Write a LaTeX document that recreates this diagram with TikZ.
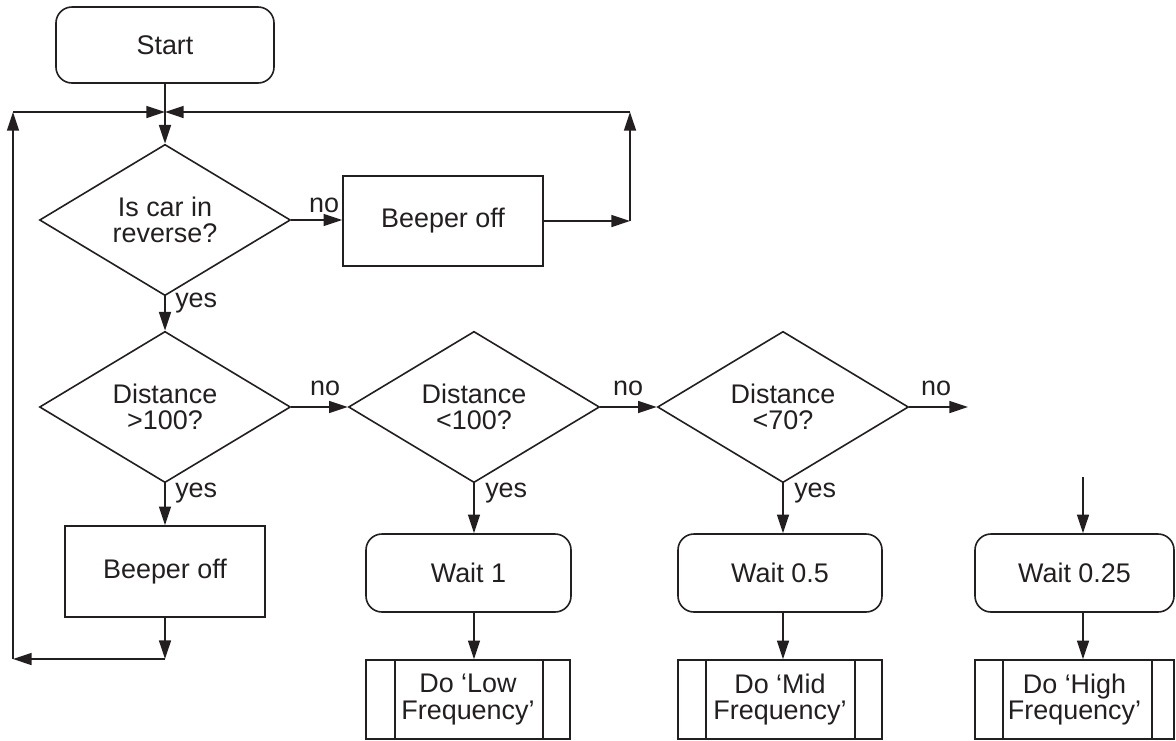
\documentclass[tikz,border=0pt]{standalone}
\usepackage{fontspec}
\setmainfont{Liberation Sans}
\usetikzlibrary{arrows.meta,shapes.geometric,calc}
\definecolor{ink}{HTML}{231F20}
\begin{document}
\begin{tikzpicture}[x=0.75pt,y=-0.75pt,
  every node/.style={text=ink, font=\fontsize{20.2}{20}\selectfont, align=center, inner sep=0pt},
  base/.style={draw=ink, line width=1.2pt},
  procbox/.style={base, rectangle},
  termbox/.style={base, rectangle, rounded corners=12pt},
  decbox/.style={base, diamond, minimum width=188.25pt, minimum height=104.25pt},
  subbox/.style={base, rectangle, minimum height=59.25pt},
  lbl/.style={anchor=base},
  conn/.style={draw=ink, line width=1.2pt},
  arr/.style={conn, -{Triangle[length=14pt,width=9pt]}}]
\useasboundingbox (0,0) rectangle (1176,740);

% nodes
\node[termbox, minimum width=163.5pt, minimum height=57pt] (start) at (165,45) {Start};
\node[decbox] (d1) at (165,220) {Is car in\\reverse?};
\node[procbox, minimum width=150pt, minimum height=67.5pt] (b1) at (443,221) {Beeper off};
\node[decbox] (d2) at (165,407) {Distance\\>100?};
\node[decbox] (d3) at (474,407) {Distance\\<100?};
\node[decbox] (d4) at (783,407) {Distance\\<70?};
\node[procbox, minimum width=150pt, minimum height=68.25pt] (b2) at (165,571.5) {Beeper off};
\node[termbox, minimum width=153.75pt, minimum height=58.5pt] (w1) at (468.5,573) {Wait 1};
\node[termbox, minimum width=153pt, minimum height=58.5pt] (w2) at (780,573) {Wait 0.5};
\node[termbox, minimum width=149.25pt, minimum height=58.5pt] (w3) at (1074.5,573) {Wait 0.25};
\node[subbox, minimum width=153pt] (s1) at (468,699.5) {Do ‘Low\\Frequency’};
\node[subbox, minimum width=153pt] (s2) at (780,699.5) {Do ‘Mid\\Frequency’};
\node[subbox, minimum width=149.25pt] (s3) at (1074.5,699.5) {Do ‘High\\Frequency’};

% inner bars of subroutine boxes
\draw[conn] ([xshift=22.5pt]s1.north west) -- ([xshift=22.5pt]s1.south west);
\draw[conn] ([xshift=-21pt]s1.north east) -- ([xshift=-21pt]s1.south east);
\draw[conn] ([xshift=21.75pt]s2.north west) -- ([xshift=21.75pt]s2.south west);
\draw[conn] ([xshift=-21pt]s2.north east) -- ([xshift=-21pt]s2.south east);
\draw[conn] ([xshift=21.75pt]s3.north west) -- ([xshift=21.75pt]s3.south west);
\draw[conn] ([xshift=-17.25pt]s3.north east) -- ([xshift=-17.25pt]s3.south east);

% coordinates
\coordinate (j) at (165,112);
\coordinate (lt) at (13,112);
\coordinate (lb) at (13,659);
\coordinate (rt) at (630,112);
\coordinate (rb) at (630,221);
\coordinate (nend) at (968,407);
\coordinate (hin) at (1083,477);

% connectors
\draw[conn] (start.south) -- (j);
\draw[arr] (j) -- (d1.north);
\draw[arr] (d1.east) -- (d1.east -| b1.west);
\draw[arr] (b1.east) -- (rb);
\draw[arr] (rb) -- (rt);
\draw[arr] (rt) -- (j);
\draw[arr] (d1.south) -- (d2.north);
\draw[arr] (d2.east) -- (d3.west);
\draw[arr] (d3.east) -- (d4.west);
\draw[arr] (d4.east) -- (nend);
\draw[arr] (d2.south) -- (d2.south |- b2.north);
\draw[arr] (b2.south) -- (b2.south |- lb);
\draw[arr] (b2.south |- lb) -- (lb);
\draw[arr] (lb) -- (lt);
\draw[arr] (lt) -- (j);
\draw[arr] (d3.south) -- (d3.south |- w1.north);
\draw[arr] (d4.south) -- (d4.south |- w2.north);
\draw[arr] (hin) -- (hin |- w3.north);
\draw[arr] (d3.south |- w1.south) -- (d3.south |- s1.north);
\draw[arr] (d4.south |- w2.south) -- (d4.south |- s2.north);
\draw[arr] (hin |- w3.south) -- (hin |- s3.north);

% labels
\node[lbl] (no1) at (324,212) {no};
\node[lbl] (no2) at (325,395) {no};
\node[lbl] (no3) at (628,395) {no};
\node[lbl] (no4) at (936,395) {no};
\node[lbl, anchor=base west] (y1) at (175,307) {yes};
\node[lbl, anchor=base west] (y2) at (175,497) {yes};
\node[lbl, anchor=base west] (y3) at (485,497) {yes};
\node[lbl, anchor=base west] (y4) at (794,497) {yes};
\end{tikzpicture}
\end{document}
